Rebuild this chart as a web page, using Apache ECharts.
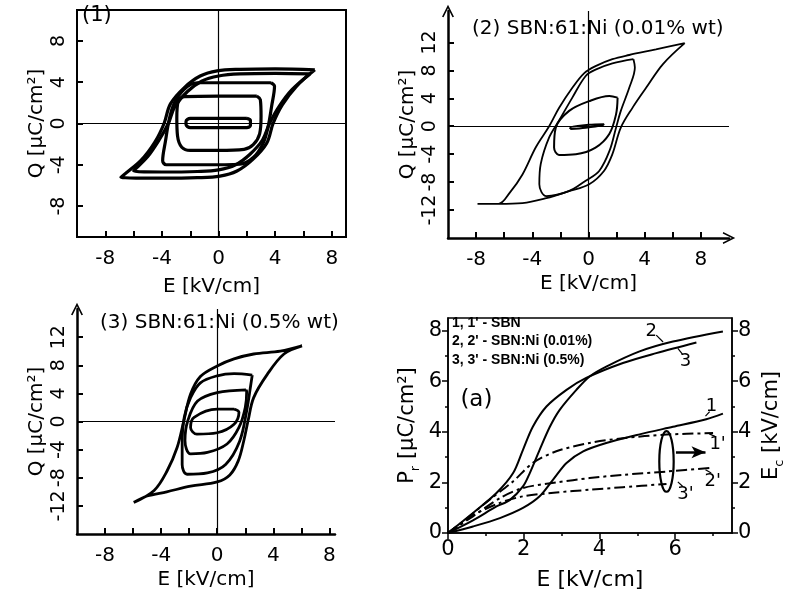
<!DOCTYPE html>
<html>
<head>
<meta charset="utf-8">
<script src="https://cdn.jsdelivr.net/npm/echarts@6/dist/echarts.min.js"></script>
<style>
  html, body { margin: 0; padding: 0; background: #fff; }
  #chart { width: 788px; height: 594px; }
</style>
</head>
<body>
<div id="chart"></div>
<script>
// ---- panel (1): SBN, Q(E) loops ----
const p1XTicks = [-8, -6, -4, -2, 0, 2, 4, 6, 8];
const p1XLabels = [-8, -4, 0, 4, 8];
const p1YTicks = [-8, -4, 0, 4, 8];
const p1Loop1 = [[6.8,5.2],[4,5.3],[1.5,5.25],[-0.1,5.1],[-1.3,4.6],[-2.4,3.5],[-3.4,1.9],[-3.85,0],[-4.5,-1.8],[-5.5,-3.6],[-6.9,-5.2],
  [-4,-5.3],[-1.5,-5.25],[0.1,-5.1],[1.3,-4.6],[2.4,-3.5],[3.4,-1.9],[3.85,0],[4.5,1.8],[5.5,3.6],[6.8,5.2]];
const p1Loop2 = [[6.45,4.8],[4,4.85],[1.5,4.8],[0,4.6],[-1.2,4.1],[-2.2,3.1],[-3.1,1.6],[-3.55,0],[-4.2,-1.6],[-5.0,-3.2],[-6.0,-4.6],
  [-4,-4.7],[-1.5,-4.65],[0,-4.5],[1.2,-4.0],[2.2,-3.0],[3.1,-1.6],[3.6,0],[4.3,1.7],[5.2,3.3],[6.45,4.8]];
const p1Loop3 = [[3.7,3.95],[1,3.95],[-1.5,3.95],[-2.45,3.3],[-3.15,1.9],[-3.5,0.3],[-3.75,-1.7],[-3.95,-3.6],[-3.7,-4.0],[-1,-4.0],
  [1.5,-3.95],[2.45,-3.3],[3.15,-1.9],[3.5,-0.3],[3.75,1.7],[3.95,3.6],[3.7,3.95]];
const p1Loop4 = [[2.7,2.65],[0,2.65],[-2.4,2.6],[-2.85,2.2],[-2.95,0.5],[-2.9,-1.2],[-2.6,-2.3],[-2.0,-2.6],[0,-2.6],[1.8,-2.5],
  [2.45,-2.05],[2.9,-1.0],[3.0,0.7],[2.95,2.3],[2.7,2.65]];
const p1Loop5 = [[2.0,0.5],[0,0.5],[-2.0,0.5],[-2.3,0.2],[-2.3,-0.1],[-2.0,-0.4],[0,-0.4],[2.0,-0.4],[2.25,-0.2],[2.25,0.3],[2.0,0.5]];

// ---- panel (2): SBN:61:Ni 0.01% ----
const p2XTicks = [-8, -6, -4, -2, 0, 2, 4, 6, 8];
const p2XLabels = [-8, -4, 0, 4, 8];
const p2YTicks = [-12, -8, -4, 0, 4, 8, 12];
const p2Loop1 = [[6.85,11.9],[4.8,11.0],[2.9,10.2],[1.7,9.6],[0.5,8.6],[-0.3,7.6],[-1.15,5.5],[-2.1,2.6],[-2.8,0],[-3.75,-3.0],
  [-4.7,-6.9],[-5.6,-9.5],[-6.4,-11.1],[-7.9,-11.1],[-6.4,-11.1],[-4.7,-11.0],[-3.0,-10.3],[-1.4,-9.3],[0.05,-8.3],[1.1,-6.4],
  [1.7,-4.0],[2.3,-0.2],[3.15,2.7],[4.1,5.5],[5.3,8.9],[6.85,11.9]];
const p2Loop2 = [[3.2,9.6],[1.7,9.0],[0.5,8.1],[-0.2,7.2],[-1.15,4.1],[-2.1,0.8],[-2.8,-1.6],[-3.4,-5.4],[-3.5,-8.3],[-3.0,-10.0],
  [-1.4,-9.3],[-0.2,-7.8],[0.76,-6.4],[1.5,-3.5],[1.96,-0.2],[2.3,2.2],[2.9,5.5],[3.3,8.4],[3.2,9.6]];
const p2Loop3 = [[2.07,4.1],[1.96,1.7],[1.48,-1.1],[0.5,-3.05],[-0.9,-4.0],[-2.1,-4.1],[-2.45,-3.05],[-2.33,-0.2],[-1.38,2.2],
  [0.05,3.6],[1.48,4.33],[2.07,4.1]];
const p2Loop4 = [[-1.3,-0.4],[-0.2,-0.2],[1.0,0.15],[1.1,0.3],[0,0.2],[-1.3,-0.2],[-1.3,-0.4]];

// ---- panel (3): SBN:61:Ni 0.5% ----
const p3XTicks = [-8, -6, -4, -2, 0, 2, 4, 6, 8];
const p3XLabels = [-8, -4, 0, 4, 8];
const p3YTicks = [-12, -8, -4, 0, 4, 8, 12];
const p3Loop1 = [[6.05,10.75],[4.5,10.0],[2.6,9.6],[1.2,8.9],[0,7.9],[-1.2,6.4],[-1.9,3.9],[-2.38,0.1],[-2.86,-3.7],[-3.57,-7.0],
  [-4.5,-9.8],[-5.95,-11.5],[-5.0,-10.6],[-3.6,-10.0],[-1.9,-9.2],[0,-8.6],[0.9,-7.6],[1.5,-5.6],[1.9,-2.7],[2.2,0.1],
  [2.6,3.4],[3.57,6.7],[4.76,9.6],[6.05,10.75]];
const p3Loop2 = [[2.5,6.6],[1.2,6.8],[0,6.5],[-1.2,5.5],[-1.9,3.4],[-2.35,0.6],[-2.5,-3.2],[-2.5,-6.1],[-2.15,-7.5],[-0.7,-7.3],
  [0.6,-6.1],[1.6,-2.8],[2.1,1.5],[2.4,5.3],[2.5,6.6]];
const p3Loop3 = [[2.05,4.5],[0,4.1],[-1.4,2.9],[-2.1,0.1],[-2.3,-2.7],[-1.9,-4.6],[-0.7,-4.4],[0.7,-3.2],[1.55,-0.85],[2.0,2.0],
  [2.1,4.3],[2.05,4.5]];
const p3Loop4 = [[1.2,1.76],[0,1.76],[-1.65,0.6],[-1.9,-0.85],[-1.45,-1.8],[0,-1.6],[1.2,-0.4],[1.55,1.3],[1.2,1.76]];

// ---- panel (a): Pr(E) solid, Ec(E) dash-dot ----
const paXMajor = [0, 2, 4, 6];
const paXMinor = [1, 3, 5, 7];
const paYMajor = [0, 2, 4, 6, 8];
const paYMinor = [1, 3, 5, 7];
const pr1 = [[0,0],[0.66,0.26],[1.37,0.59],[1.98,0.99],[2.42,1.45],[2.77,2.1],[3.13,2.77],[3.57,3.23],[4.18,3.56],[5.06,3.9],
  [5.94,4.2],[6.82,4.5],[7.26,4.72]];
const pr2 = [[0,0],[0.66,0.5],[1.28,1.05],[1.63,1.3],[1.98,1.84],[2.16,2.37],[2.42,3.29],[2.69,4.2],[2.95,4.87],[3.39,5.66],
  [3.74,6.19],[4.18,6.58],[5.06,7.18],[5.94,7.57],[7.26,7.97]];
const pr3 = [[0,0],[0.66,0.79],[1.28,1.58],[1.72,2.37],[1.98,3.29],[2.24,4.2],[2.6,5.0],[3.13,5.66],[3.65,6.13],[4.62,6.72],
  [5.5,7.11],[6.56,7.53]];
const ec1 = [[0,0],[0.4,0.46],[1.1,1.32],[1.72,2.04],[2.24,2.77],[2.86,3.23],[3.74,3.56],[4.62,3.75],[5.77,3.89],[7.0,3.95]];
const ec2 = [[0,0],[0.66,0.66],[1.37,1.38],[1.98,1.78],[2.86,2.0],[3.74,2.17],[4.62,2.3],[5.77,2.43],[6.91,2.57]];
const ec3 = [[0,0],[0.66,0.7],[1.37,1.19],[1.98,1.45],[2.86,1.6],[3.74,1.71],[4.62,1.81],[5.77,1.94]];
const legendLines = ["1, 1' - SBN", "2, 2' - SBN:Ni (0.01%)", "3, 3' - SBN:Ni (0.5%)"];

const FONT = 'DejaVu Sans';
const BLACK = '#000';

let chart = echarts.init(document.getElementById('chart'), null, { renderer: 'canvas' });

function loop(data, axis, width) {
  return {
    type: 'line', xAxisIndex: axis, yAxisIndex: axis, data: data,
    showSymbol: false, smooth: 0.35, silent: true,
    lineStyle: { color: BLACK, width: width }
  };
}
function zeroLines() {
  return {
    silent: true, symbol: 'none', label: { show: false }, animation: false,
    lineStyle: { color: BLACK, width: 1.2, type: 'solid' },
    data: [{ xAxis: 0 }, { yAxis: 0 }]
  };
}
const arrowHead = 'path://M0,12 L6,0 L12,12 L10.5,12.5 L6,3.5 L1.5,12.5 Z';

function hystX(grid, min, max, ticks, labels, lineW, arrow, gap) {
  return {
    type: 'value', gridIndex: grid, min: min, max: max,
    name: 'E [kV/cm]', nameLocation: 'middle', nameGap: gap,
    nameTextStyle: { fontFamily: FONT, fontSize: 20, color: BLACK },
    axisLine: { onZero: false, lineStyle: { color: BLACK, width: lineW },
      symbol: arrow ? ['none', arrowHead] : 'none', symbolSize: [12, 14] },
    axisTick: { inside: true, length: 6, customValues: ticks, lineStyle: { color: BLACK, width: 2 } },
    axisLabel: { customValues: labels, fontFamily: FONT, fontSize: 20, color: BLACK, margin: 12 },
    splitLine: { show: false }
  };
}
function hystY(grid, min, max, ticks, lineW, arrow, gap) {
  return {
    type: 'value', gridIndex: grid, min: min, max: max,
    name: 'Q [μC/cm²]', nameLocation: 'middle', nameGap: gap,
    nameTextStyle: { fontFamily: FONT, fontSize: 20, color: BLACK },
    axisLine: { onZero: false, lineStyle: { color: BLACK, width: lineW },
      symbol: arrow ? ['none', arrowHead] : 'none', symbolSize: [12, 14] },
    axisTick: { inside: true, length: 6, customValues: ticks, lineStyle: { color: BLACK, width: 2 } },
    axisLabel: { customValues: ticks, rotate: 90, fontFamily: FONT, fontSize: 19, color: BLACK, margin: 8 },
    splitLine: { show: false }
  };
}
function paAxisStyle(ax, ticks, len, labels) {
  ax.axisLine = { onZero: false, show: labels, lineStyle: { color: BLACK, width: 1.5 } };
  ax.axisTick = { length: len, customValues: ticks, lineStyle: { color: BLACK, width: 1.5 } };
  ax.axisLabel = labels
    ? { customValues: ticks, fontFamily: FONT, fontSize: 21, color: BLACK, margin: 6 }
    : { show: false };
  ax.splitLine = { show: false };
  return ax;
}
const richName = {
  a: { fontFamily: FONT, fontSize: 21, color: BLACK, lineHeight: 28 },
  s: { fontFamily: FONT, fontSize: 13, color: BLACK, verticalAlign: 'bottom', lineHeight: 13 }
};

const option = {
  animation: false,
  backgroundColor: '#fff',
  grid: [
    { left: 77, top: 10, width: 269, height: 227, show: true, borderColor: BLACK, borderWidth: 2 },
    { left: 448, top: 11, width: 281, height: 227 },
    { left: 77, top: 309, width: 258, height: 225 },
    { left: 448, top: 318, width: 284, height: 215, show: true, borderColor: BLACK, borderWidth: 1.5 }
  ],
  xAxis: [
    hystX(0, -10, 9, p1XTicks, p1XLabels, 2, false, 40),
    hystX(1, -10, 10, p2XTicks, p2XLabels, 2.5, true, 36),
    hystX(2, -10, 8.4, p3XTicks, p3XLabels, 2.5, false, 36),
    Object.assign(paAxisStyle({ type: 'value', gridIndex: 3, min: 0, max: 7.5, position: 'bottom' }, paXMajor, 6, true), {
      name: 'E [kV/cm]', nameLocation: 'middle', nameGap: 36,
      nameTextStyle: { fontFamily: FONT, fontSize: 22, color: BLACK } }),
    paAxisStyle({ type: 'value', gridIndex: 3, min: 0, max: 7.5, position: 'bottom' }, paXMinor, 3, false)
  ],
  yAxis: [
    hystY(0, -11, 11, p1YTicks, 2, false, 30),
    hystY(1, -16, 16.5, p2YTicks, 2.5, true, 30),
    hystY(2, -16, 16, p3YTicks, 2.5, true, 30),
    Object.assign(paAxisStyle({ type: 'value', gridIndex: 3, min: 0, max: 8.5, position: 'left' }, paYMajor, 6, true), {
      name: '{a|P}{s|r}{a| [μC/cm²]}', nameLocation: 'middle', nameGap: 26,
      nameTextStyle: { rich: richName } }),
    paAxisStyle({ type: 'value', gridIndex: 3, min: 0, max: 8.5, position: 'left' }, paYMinor, 3, false),
    Object.assign(paAxisStyle({ type: 'value', gridIndex: 3, min: 0, max: 8.5, position: 'right' }, paYMajor, 6, true), {
      name: '{a|E}{s|c}{a| [kV/cm]}', nameLocation: 'middle', nameGap: 26,
      nameTextStyle: { rich: richName } }),
    paAxisStyle({ type: 'value', gridIndex: 3, min: 0, max: 8.5, position: 'right' }, paYMinor, 3, false)
  ],
  series: [
    Object.assign(loop(p1Loop1, 0, 3.2), { markLine: zeroLines() }),
    loop(p1Loop2, 0, 3.2), loop(p1Loop3, 0, 3.2), loop(p1Loop4, 0, 3.2), loop(p1Loop5, 0, 3.2),
    Object.assign(loop(p2Loop1, 1, 1.8), { markLine: zeroLines() }),
    loop(p2Loop2, 1, 1.8), loop(p2Loop3, 1, 2), loop(p2Loop4, 1, 2),
    Object.assign(loop(p3Loop1, 2, 2.8), { markLine: zeroLines() }),
    loop(p3Loop2, 2, 2.8), loop(p3Loop3, 2, 2.8), loop(p3Loop4, 2, 2.8)
  ]
};

const solid = [pr1, pr2, pr3];
solid.forEach(d => option.series.push({
  type: 'line', xAxisIndex: 3, yAxisIndex: 3, data: d, showSymbol: false, smooth: 0.3, silent: true,
  lineStyle: { color: BLACK, width: 2 }
}));
const dashed = [ec1, ec2, ec3];
dashed.forEach((d, i) => option.series.push({
  type: 'line', xAxisIndex: 3, yAxisIndex: 5, data: d, showSymbol: false, smooth: 0.3, silent: true,
  lineStyle: { color: BLACK, width: 2, type: [11, 4, 3, 4] },
  markLine: i === 0 ? {
    silent: true, symbol: ['none', 'arrow'], symbolSize: [9, 14], label: { show: false },
    lineStyle: { color: BLACK, width: 2.5, type: 'solid' },
    data: [[{ coord: [6.02, 3.19] }, { coord: [6.8, 3.19] }]]
  } : undefined
}));

chart.setOption(option);

// annotations of panel (a), placed in data units of that panel
function px(x, y) { return chart.convertToPixel({ xAxisIndex: 3, yAxisIndex: 3 }, [x, y]); }
const tags = [
  { t: '2', at: [5.37, 7.97], from: [5.5, 7.82], to: [5.68, 7.55] },
  { t: '3', at: [6.27, 6.78], from: [6.2, 7.05], to: [6.07, 7.3] },
  { t: '1', at: [6.96, 5.0], from: [6.91, 4.8], to: [6.8, 4.62] },
  { t: "1'", at: [7.12, 3.49], from: [7.05, 3.82], to: [6.9, 3.92] },
  { t: "2'", at: [6.99, 2.04], from: [6.95, 2.37], to: [6.8, 2.5] },
  { t: "3'", at: [6.27, 1.51], from: [6.2, 1.84], to: [6.07, 2.02] }
];
const graphics = [];
tags.forEach(g => {
  const p = px(g.at[0], g.at[1]), a = px(g.from[0], g.from[1]), b = px(g.to[0], g.to[1]);
  graphics.push({ type: 'text', x: p[0], y: p[1], silent: true,
    style: { text: g.t, fontFamily: FONT, fontSize: 18, fill: BLACK, align: 'center', verticalAlign: 'middle' } });
  graphics.push({ type: 'line', silent: true, shape: { x1: a[0], y1: a[1], x2: b[0], y2: b[1] },
    style: { stroke: BLACK, lineWidth: 1.2 } });
});
const c = px(5.77, 2.83), r = px(5.96, 4.03);
graphics.push({ type: 'ellipse', silent: true,
  shape: { cx: c[0], cy: c[1], rx: r[0] - c[0], ry: c[1] - r[1] },
  style: { fill: 'none', stroke: BLACK, lineWidth: 2.2 } });
const aPos = px(0.75, 5.27);
graphics.push({ type: 'text', x: aPos[0], y: aPos[1], silent: true,
  style: { text: '(a)', fontFamily: FONT, fontSize: 23, fill: BLACK, align: 'center', verticalAlign: 'middle' } });
legendLines.forEach((s, i) => graphics.push({ type: 'text', left: 452, top: 316 + i * 18.5, silent: true,
  style: { text: s, fontFamily: 'Liberation Sans', fontWeight: 'bold', fontSize: 14, fill: BLACK } }));

// panel titles
graphics.push({ type: 'text', left: 82, top: 5, silent: true,
  style: { text: '(1)', fontFamily: FONT, fontSize: 21, fill: BLACK } });
graphics.push({ type: 'text', left: 472, top: 19, silent: true,
  style: { text: '(2) SBN:61:Ni (0.01% wt)', fontFamily: FONT, fontSize: 20, fill: BLACK } });
graphics.push({ type: 'text', left: 100, top: 313, silent: true,
  style: { text: '(3) SBN:61:Ni (0.5% wt)', fontFamily: FONT, fontSize: 20, fill: BLACK } });

chart.setOption({ graphic: graphics });
</script>
</body>
</html>
